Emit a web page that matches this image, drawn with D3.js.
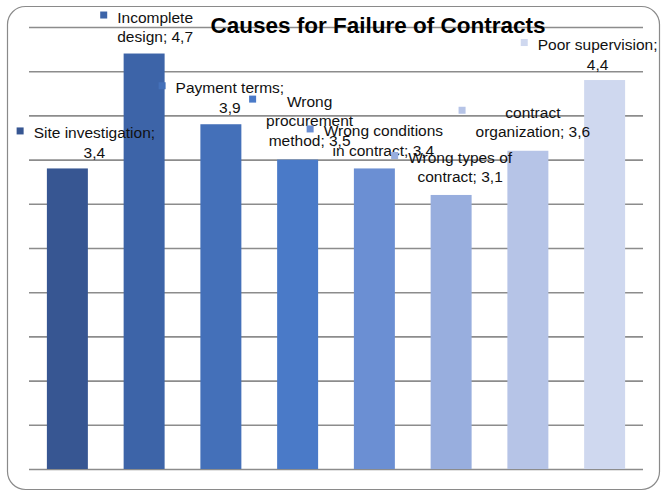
<!DOCTYPE html>
<html><head><meta charset="utf-8">
<script src="https://cdn.jsdelivr.net/npm/d3@7"></script>
<style>html,body{margin:0;padding:0;background:#fff;}svg{display:block;}</style>
</head><body>
<svg id="c" width="668" height="496"></svg>
<script>
const title = "Causes for Failure of Contracts";
const categories = ["Site investigation","Incomplete design","Payment terms","Wrong procurement method","Wrong conditions in contract","Wrong types of contract","contract organization","Poor supervision"];
const values = [3.4, 4.7, 3.9, 3.5, 3.4, 3.1, 3.6, 4.4];
const valueLabels = ["3,4","4,7","3,9","3,5","3,4","3,1","3,6","4,4"];
const labelLines = [
  ["Site investigation;", "3,4"],
  ["Incomplete", "design; 4,7"],
  ["Payment terms;", "3,9"],
  ["Wrong", "procurement", "method; 3,5"],
  ["Wrong conditions", "in contract; 3,4"],
  ["Wrong types of", "contract; 3,1"],
  ["contract", "organization; 3,6"],
  ["Poor supervision;", "4,4"]
];
const colors = ["#375692","#3D64A8","#4470B9","#4A7AC8","#6B8FD3","#98AEDE","#B6C4E7","#CFD8EF"];
const yTicks = d3.range(0, 5.01, 0.5);
// label layout offsets (relative to bar centre / bar top)
const labelDx = [27, 11, 9, 12, 9, 9, 5, -7];
const labelDy = [-30, -31, -31, -53, -32, -32, -33, -30];

const svg = d3.select("#c");
const mLeft = 29, mRight = 643, mTop = 27, mBottom = 469;

svg.append("rect").attr("x",7.5).attr("y",6.5).attr("width",652).attr("height",483)
  .attr("rx",18).attr("ry",18).attr("fill","#fff").attr("stroke","#8a8a8a").attr("stroke-width",1.2);

const x = d3.scaleBand().domain(categories).range([mLeft, mRight]).paddingInner(0.466).paddingOuter(0.233);
const y = d3.scaleLinear().domain([0, 5]).range([mBottom, mTop]);

const grid = d3.axisLeft(y).tickValues(yTicks).tickSize(-(mRight-mLeft)).tickFormat("");
const g = svg.append("g").attr("transform",`translate(${mLeft},0)`).call(grid);
g.select(".domain").remove();
g.selectAll(".tick line").attr("stroke","#8c8c8c").attr("stroke-width",1.6);

svg.append("g").selectAll("rect").data(values).join("rect")
  .attr("x",(d,i)=>x(categories[i])).attr("y",d=>y(d))
  .attr("width",x.bandwidth()).attr("height",d=>y(0)-y(d))
  .attr("fill",(d,i)=>colors[i]);

svg.append("text").attr("x",378).attr("y",33).attr("text-anchor","middle")
  .attr("font-family","'Liberation Sans', Arial, sans-serif").attr("font-weight","bold")
  .attr("font-size",22.5).attr("fill","#000").text(title);

const lg = svg.append("g").attr("font-family","'Liberation Sans', Arial, sans-serif").attr("font-size",15.5).attr("fill","#111");
values.forEach((v,i)=>{
  const cx = x(categories[i]) + x.bandwidth()/2 + labelDx[i];
  const by = y(v) + labelDy[i];
  const t = lg.append("text").attr("text-anchor","middle");
  labelLines[i].forEach((ln,j)=>{
    t.append("tspan").attr("x",cx).attr("y",by + j*19.5).text(ln);
  });
  let maxW = 0;
  t.selectAll("tspan").each(function(){ maxW = Math.max(maxW, this.getComputedTextLength()); });
  lg.append("rect").attr("x",cx - maxW/2 - 17).attr("y",by - 11).attr("width",7).attr("height",7).attr("fill",colors[i]);
});
</script>
</body></html>
